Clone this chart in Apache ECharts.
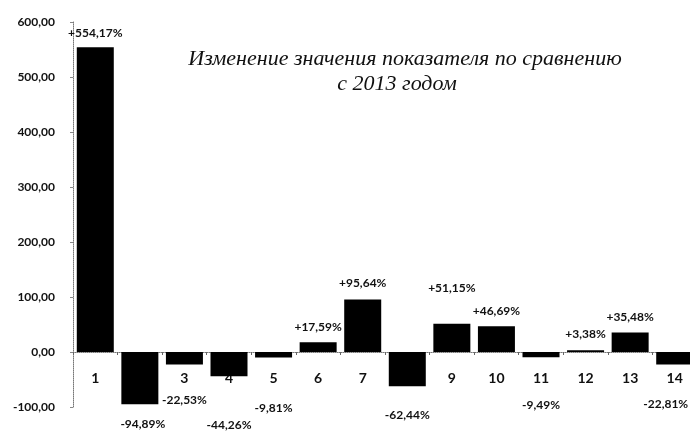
<!DOCTYPE html>
<html>
<head>
<meta charset="utf-8">
<script src="https://cdn.jsdelivr.net/npm/echarts@6/dist/echarts.min.js"></script>
<style>html,body{margin:0;padding:0;background:#fff}#c{width:690px;height:432px}</style>
</head>
<body>
<div id="c"></div>
<script>
const categories = ['1','2','3','4','5','6','7','8','9','10','11','12','13','14'];
const values = [554.17, -94.89, -22.53, -44.26, -9.81, 17.59, 95.64, -62.44, 51.15, 46.69, -9.49, 3.38, 35.48, -22.81];
const yTicks = { min: -100, max: 600, interval: 100 };
const titleLine1 = 'Изменение значения показателя по сравнению';
const titleLine2 = 'с 2013 годом';

// label placement (style only)
const labelDist = [8, 14, 30, 43, 45, 9, 10, 23, 30, 9, 42, 10, 9, 34];
const labelDx = [0, 3, 0, 0, 0, 0, 0, 0, 0, 0, 0, 0, 0, -9];

const fmtPct = v => (v > 0 ? '+' : '') + v.toFixed(2).replace('.', ',') + '%';
const FONT = 'Lato';

const chart = echarts.init(document.getElementById('c'));
chart.setOption({
  animation: false,
  backgroundColor: '#fff',
  title: [
    { text: titleLine1, left: 400, top: 43, textAlign: 'center',
      textStyle: { fontFamily: 'Liberation Serif', fontStyle: 'italic', fontWeight: 'normal', fontSize: 22, color: '#111' } },
    { text: titleLine2, left: 392, top: 68, textAlign: 'center',
      textStyle: { fontFamily: 'Liberation Serif', fontStyle: 'italic', fontWeight: 'normal', fontSize: 22, color: '#111' } }
  ],
  grid: { left: 73, right: -7, top: 22, bottom: 25, containLabel: false, outerBoundsMode: 'none' },
  xAxis: {
    type: 'category',
    data: categories,
    offset: -55,
    axisLine: { onZero: false, lineStyle: { color: '#777', type: 'dotted', width: 1 } },
    axisTick: { show: true, length: 3, lineStyle: { color: '#666' } },
    axisLabel: { fontFamily: FONT, fontWeight: 'bold', fontSize: 14, color: '#111', margin: 19 },
    z: 0
  },
  yAxis: {
    type: 'value',
    min: yTicks.min, max: yTicks.max, interval: yTicks.interval,
    splitLine: { show: false },
    axisLine: { show: true, lineStyle: { color: '#777', type: 'dotted', width: 1 } },
    axisTick: { show: true, length: 3, lineStyle: { color: '#888' } },
    axisLabel: { fontFamily: FONT, fontWeight: 'bold', fontSize: 12, color: '#111', margin: 18,
      formatter: v => v.toFixed(2).replace('.', ',') }
  },
  series: [{
    type: 'bar',
    barWidth: 37,
    z: 3,
    itemStyle: { color: '#000' },
    data: values.map((v, i) => ({
      value: v,
      label: {
        show: true,
        position: v >= 0 ? 'top' : 'bottom',
        distance: labelDist[i],
        offset: [labelDx[i], 0],
        formatter: p => fmtPct(p.value),
        fontFamily: FONT, fontWeight: 'bold', fontSize: 12, color: '#111'
      }
    }))
  }]
});
</script>
</body>
</html>
